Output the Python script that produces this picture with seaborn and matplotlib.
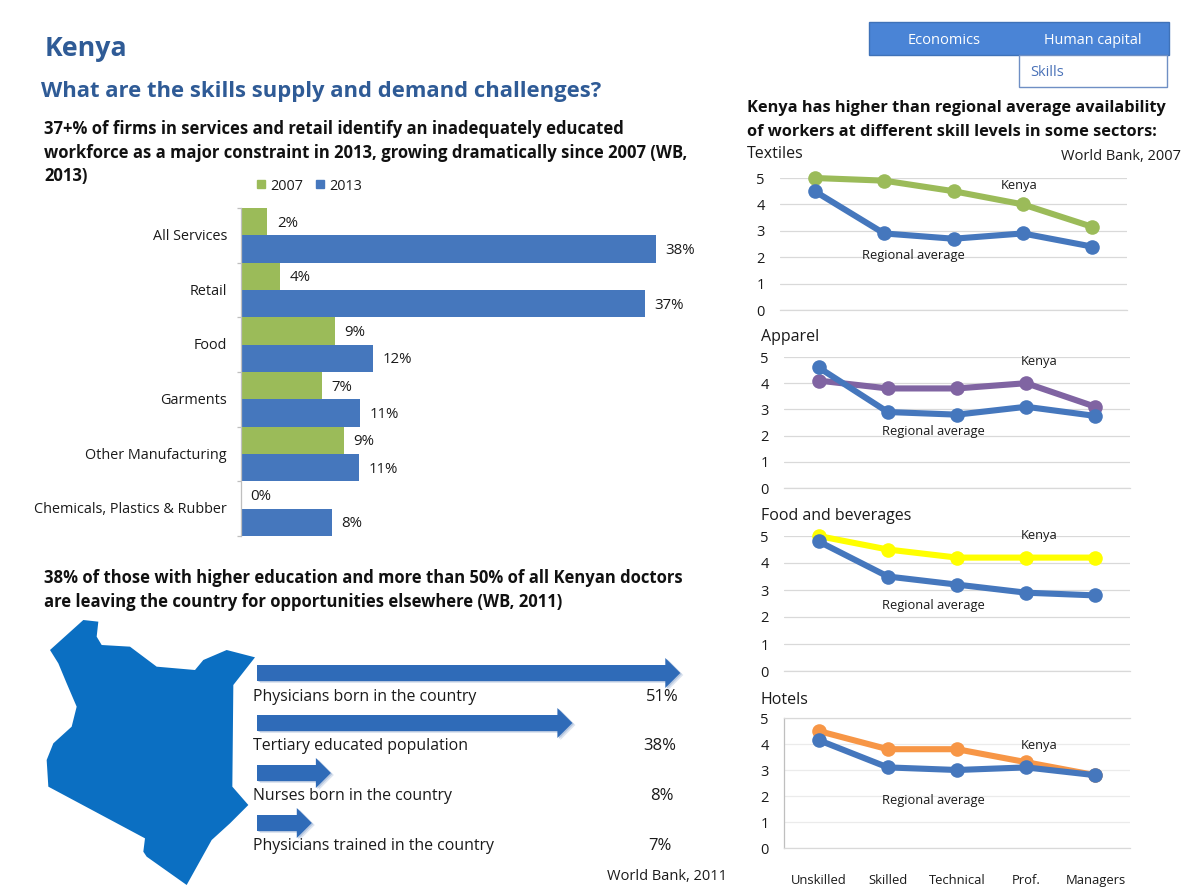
import matplotlib
matplotlib.use("Agg")
import matplotlib.pyplot as plt
import seaborn as sns
import pandas as pd
from matplotlib.patches import Polygon, Rectangle, FancyArrow
from matplotlib.lines import Line2D
from matplotlib.transforms import ScaledTranslation

W, H = 1188, 888
sns.set_theme(style="white")
plt.rcParams["font.family"] = ["Open Sans", "DejaVu Sans"]

# ---- data ----
sectors = ["All Services", "Retail", "Food", "Garments", "Other Manufacturing",
           "Chemicals, Plastics & Rubber"]
firms_2007 = [2.4, 3.6, 8.6, 7.4, 9.4, 0]
firms_2013 = [38, 37, 12.1, 10.9, 10.8, 8.3]

skills = ["Unskilled", "Skilled", "Technical", "Prof.", "Managers"]
textiles_kenya = [5.0, 4.9, 4.5, 4.0, 3.15]
textiles_region = [4.5, 2.9, 2.7, 2.9, 2.4]
apparel_kenya = [4.1, 3.8, 3.8, 4.0, 3.1]
apparel_region = [4.6, 2.9, 2.8, 3.1, 2.75]
food_kenya = [5.0, 4.5, 4.2, 4.2, 4.2]
food_region = [4.8, 3.5, 3.2, 2.9, 2.8]
hotels_kenya = [4.5, 3.8, 3.8, 3.3, 2.8]
hotels_region = [4.15, 3.1, 3.0, 3.1, 2.8]

leaving_labels = ["Physicians born in the country", "Tertiary educated population",
                  "Nurses born in the country", "Physicians trained in the country"]
leaving_pct = [51, 38, 8, 7]
arrow_extent = [51, 38, 8.9, 6.6]

map_x = [150, 250, 295, 290, 305, 390, 470, 585, 610, 680, 765, 700, 697, 745, 690, 635,
         560, 440, 430, 435, 145, 140, 160, 215, 230, 200, 175]
map_y = [150, 60, 65, 110, 135, 140, 200, 210, 180, 150, 172, 255, 560, 615, 670, 720,
         855, 770, 755, 715, 560, 480, 430, 380, 320, 250, 190]

GREEN = "#9bbb59"
BLUE = "#4577bd"
INK = "#1a1a1a"

fig = plt.figure(figsize=(W / 100, H / 100), dpi=100, facecolor="white")


def box(x0, y0, x1, y1, **kw):
    return fig.add_axes([x0 / W, 1 - y1 / H, (x1 - x0) / W, (y1 - y0) / H], **kw)


# ---- bars ----
ax = box(241, 208, 700, 536)
bars = pd.DataFrame({
    "sector": sectors * 2,
    "year": ["2007"] * 6 + ["2013"] * 6,
    "pct": firms_2007 + firms_2013,
})
sns.barplot(data=bars, y="sector", x="pct", hue="year", order=sectors,
            hue_order=["2007", "2013"], palette={"2007": GREEN, "2013": BLUE},
            width=1.0, gap=0, saturation=1, linewidth=0, edgecolor="none",
            ax=ax, legend=False)
for c in ax.containers:
    for t in ax.bar_label(c, fmt="%.0f%%", padding=7, fontsize=10.8, color=INK):
        t.xyann = (t.xyann[0], t.xyann[1] - 1)
ax.set_xlim(0, 459 / 10.92)
ax.set_xlabel("")
ax.set_ylabel("")
ax.set_xticks([])
ax.set_yticks([i - 0.5 for i in range(len(sectors) + 1)], minor=True)
ax.tick_params(axis="y", which="major", length=0, pad=10, labelsize=10.4, labelcolor=INK)
ax.tick_params(axis="y", which="minor", left=True, length=3, width=0.9, color="#bfbfbf")
shift_up = ScaledTranslation(0, 1 / 100, fig.dpi_scale_trans)
for lab in ax.get_yticklabels():
    lab.set_transform(lab.get_transform() + shift_up)
for s in ["top", "right", "bottom"]:
    ax.spines[s].set_visible(False)
ax.spines["left"].set_color("#bfbfbf")
ax.spines["left"].set_linewidth(0.9)
ax.patch.set_alpha(0)
ax.legend(handles=[Line2D([], [], ls="", marker="s", ms=6, color=GREEN, label="2007"),
                   Line2D([], [], ls="", marker="s", ms=6, color=BLUE, label="2013")],
          ncol=2, frameon=False, fontsize=10.4, handlelength=0.8, handletextpad=0.25,
          columnspacing=0.75, loc="center", bbox_to_anchor=(309 / W, 1 - 186 / H),
          bbox_transform=fig.transFigure, labelcolor=INK)


# ---- line panels ----
def panel(x0, x1, y5, y0, kenya, region, color, spine=False, show_x=False):
    a = box(x0, y5, x1, y0)
    df = pd.DataFrame({
        "skill": skills * 2,
        "level": kenya + region,
        "who": ["Kenya"] * 5 + ["Regional average"] * 5,
    })
    a.yaxis.grid(True, color="#ebebeb" if spine else "#d9d9d9", lw=0.9)
    a.set_axisbelow(True)
    sns.lineplot(data=df, x="skill", y="level", hue="who", sort=False,
                 palette={"Kenya": color, "Regional average": BLUE},
                 lw=4.4, marker="o", ms=10.5, markeredgewidth=0,
                 legend=False, errorbar=None, ax=a, clip_on=False)
    a.set_xlim(-0.5, 4.5)
    a.set_ylim(0, 5)
    a.set_yticks(range(6))
    a.set_xlabel("")
    a.set_ylabel("")
    a.tick_params(axis="y", length=0, pad=11, labelsize=10.5, labelcolor=INK)
    a.tick_params(axis="x", length=0, pad=19, labelsize=9.4, labelcolor=INK)
    if not show_x:
        a.set_xticklabels([])
    for s in ["top", "right", "left"]:
        a.spines[s].set_visible(False)
    a.spines["bottom"].set_color("#d9d9d9")
    a.spines["bottom"].set_linewidth(0.9)
    if spine:
        a.spines["left"].set_visible(True)
        a.spines["left"].set_color("#bfbfbf")
        a.spines["left"].set_linewidth(0.9)
        a.spines["top"].set_visible(True)
        a.spines["top"].set_color("#d9d9d9")
        a.spines["top"].set_linewidth(0.9)
    a.patch.set_alpha(0)
    return a


panel(780, 1127, 178, 310, textiles_kenya, textiles_region, GREEN)
panel(784, 1130, 357, 488, apparel_kenya, apparel_region, "#8064a2")
panel(784, 1130, 536, 671, food_kenya, food_region, "#ffff00")
panel(784, 1130, 718, 848, hotels_kenya, hotels_region, "#f79646", spine=True, show_x=True)

# ---- overlay in pixel coordinates ----
ov = fig.add_axes([0, 0, 1, 1], zorder=10)
ov.set_xlim(0, W)
ov.set_ylim(H, 0)
ov.axis("off")
ov.patch.set_alpha(0)


def txt(x, y, s, size=10, weight="normal", color=INK, ha="left"):
    ov.text(x, y + 1, s, fontsize=size, fontweight=weight, color=color, ha=ha, va="center")


HEAD = "#111111"
txt(45, 48, "Kenya", 19.3, "bold", "#2f5b96")
txt(41, 90, "What are the skills supply and demand challenges?", 15.85, "bold", "#2f5b96")
txt(44, 128, "37+% of firms in services and retail identify an inadequately educated", 12, "bold", HEAD)
txt(44, 152, "workforce as a major constraint in 2013, growing dramatically since 2007 (WB,", 12, "bold", HEAD)
txt(44, 175, "2013)", 12, "bold", HEAD)
txt(44, 577, "38% of those with higher education and more than 50% of all Kenyan doctors", 12, "bold", HEAD)
txt(44, 601, "are leaving the country for opportunities elsewhere (WB, 2011)", 12, "bold", HEAD)

# nav boxes
ov.add_patch(Rectangle((869, 22), 300, 33, fc="#4a84d6", ec="#3f72b8", lw=1))
ov.add_patch(Rectangle((1019, 55), 148, 32, fc="white", ec="#6f8fc4", lw=1))
txt(944, 39, "Economics", 10.5, color="white", ha="center")
txt(1093, 39, "Human capital", 10.4, color="white", ha="center")
txt(1030, 71, "Skills", 10.5, color="#4a72b8")

txt(747, 107, "Kenya has higher than regional average availability", 11.8, "bold", HEAD)
txt(747, 131, "of workers at different skill levels in some sectors:", 11.8, "bold", HEAD)
txt(747, 153, "Textiles", 11.5)
txt(1181, 156, "World Bank, 2007", 10.5, ha="right")
txt(761, 336, "Apparel", 11.5)
txt(761, 515, "Food and beverages", 11.5)
txt(761, 699, "Hotels", 11.5)
for kx, ky, rx, ry in [(1019, 185, 913, 254), (1039, 360, 933, 430),
                       (1039, 534, 933, 604), (1039, 744, 933, 799)]:
    txt(kx, ky, "Kenya", 9.3, ha="center")
    txt(rx, ry, "Regional average", 9.3, ha="center")

# map
ov.add_patch(Polygon([(x / 3, 600 + y / 3) for x, y in zip(map_x, map_y)],
                     closed=True, fc="#0b6fc2", ec="none"))

# arrows and their labels
label_y = [696, 745, 795, 845]
arrow_y = [673, 723, 773, 823]
pct_right = [679, 676, 674, 672]
for lab, pct, ext, ly, ay, pr in zip(leaving_labels, leaving_pct, arrow_extent,
                                     label_y, arrow_y, pct_right):
    length = ext * 8.3
    for dx, dy, col, al in [(3, 2, "#c6d3e6", 0.6), (1.5, 1, "#a5bad8", 0.7), (0, 0, "#2f6bb8", 1)]:
        ov.add_patch(FancyArrow(257 + dx, ay + dy, length, 0, width=16, head_width=30,
                                head_length=15, length_includes_head=True,
                                fc=col, ec="none", alpha=al))
    txt(253, ly, lab, 11.4)
    txt(pr, ly, f"{pct}%", 12, ha="right")
txt(727, 875, "World Bank, 2011", 10.5, ha="right")

fig.savefig("out.png", dpi=100)
